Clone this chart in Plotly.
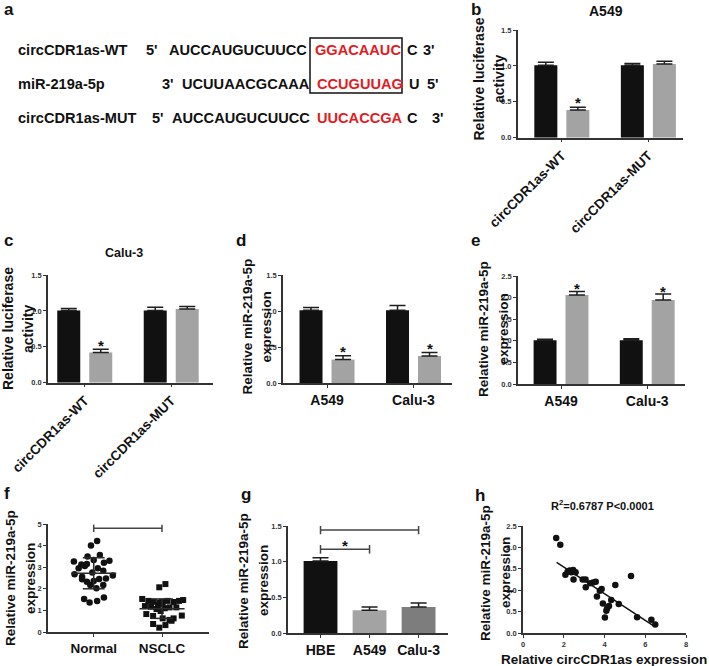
import plotly.graph_objects as go

W, H = 709, 666
FONT = "Liberation Sans, Arial, Helvetica, sans-serif"
INK = "#111111"
AXC = "#333333"
RED = "#e31b23"
LIGHT = "#a3a3a3"
DARK = "#7d7d7d"

# ---------------- data ----------------
# a: sequence alignment
seq_names = ["circCDR1as-WT", "miR-219a-5p", "circCDR1as-MUT"]
seq_end_left = ["5'", "3'", "5'"]
seq_black = ["AUCCAUGUCUUCC", "UCUUAACGCAAA", "AUCCAUGUCUUCC"]
seq_red = ["GGACAAUC", "CCUGUUAG", "UUCACCGA"]
seq_tail = ["C", "U", "C"]
seq_end_right = ["3'", "5'", "3'"]

# b: A549 luciferase
luc_groups = ["circCDR1as-WT", "circCDR1as-MUT"]
b_ctrl = [1.01, 1.01]
b_ctrl_err = [0.04, 0.025]
b_trt = [0.385, 1.025]
b_trt_err = [0.04, 0.04]
b_star = [0.54, None]

# c: Calu-3 luciferase
c_ctrl = [1.005, 1.005]
c_ctrl_err = [0.03, 0.045]
c_trt = [0.42, 1.025]
c_trt_err = [0.045, 0.035]
c_star = [0.57, None]

# d: miR-219a-5p after knockdown
cell_groups = ["A549", "Calu-3"]
d_ctrl = [1.01, 1.01]
d_ctrl_err = [0.04, 0.065]
d_trt = [0.325, 0.375]
d_trt_err = [0.055, 0.05]
d_star = [0.50, 0.53]

# e: miR-219a-5p after overexpression
e_ctrl = [1.01, 1.01]
e_ctrl_err = [0.025, 0.04]
e_trt = [2.06, 1.945]
e_trt_err = [0.08, 0.14]
e_star = [2.31, 2.23]

# f: tissues
f_groups = ["Normal", "NSCLC"]
normal_dx = [-0.04, 0.05, -0.29, -0.18, -0.13, -0.10, -0.09, 0.00, 0.09, 0.15,
             0.23, -0.28, -0.17, 0.14, 0.28, -0.17, -0.10, 0.00, 0.08, 0.18,
             -0.05, 0.04, 0.14, -0.14, -0.06, 0.05, 0.15, -0.02, 0.06, -0.22]
normal_y = [4.00, 4.21, 3.26, 3.13, 3.06, 3.15, 3.49, 3.33, 3.56, 3.21,
            3.30, 2.67, 2.56, 2.84, 2.61, 2.44, 2.33, 2.36, 2.45, 2.48,
            2.18, 2.02, 2.18, 1.53, 1.37, 1.44, 1.60, 2.75, 2.95, 2.95]
nsclc_dx = [-0.04, 0.05, -0.29, -0.20, -0.12, -0.03, 0.00, 0.08, 0.17, 0.25,
            0.31, -0.25, -0.16, -0.08, -0.02, 0.04, 0.11, 0.21, -0.23, -0.13,
            0.01, 0.11, 0.17, 0.29, -0.13, -0.04, 0.05, 0.14, -0.06, 0.01]
nsclc_y = [2.07, 2.22, 1.53, 1.44, 1.40, 1.36, 1.40, 1.44, 1.39, 1.44,
           1.48, 1.20, 1.17, 1.06, 0.97, 1.10, 1.14, 1.14, 0.83, 0.74,
           0.63, 0.56, 0.63, 0.76, 0.37, 0.20, 0.32, 0.52, 1.25, 1.30]
f_means = [2.72, 1.08]
f_sds = [0.72, 0.45]
f_bracket_y = 4.80
f_star_y = 5.26

# g: cell lines
g_groups = ["HBE", "A549", "Calu-3"]
g_vals = [1.01, 0.32, 0.365]
g_err = [0.045, 0.045, 0.055]
g_brackets = [(0, 2, 1.444, 1.546), (0, 1, 1.173, 1.28)]

# h: correlation
h_x = [1.63, 1.83, 2.08, 2.19, 2.29, 2.37, 2.46, 2.58, 2.48, 2.93,
       3.07, 3.08, 3.30, 3.44, 3.57, 3.63, 3.77, 3.86, 3.92, 4.02,
       4.09, 4.13, 4.22, 4.33, 4.53, 4.70, 5.30, 5.60, 6.30, 6.49]
h_y = [2.22, 2.06, 1.36, 1.43, 1.46, 1.42, 1.47, 1.42, 1.25, 1.25,
       1.25, 1.07, 1.16, 1.18, 1.20, 0.85, 0.99, 1.03, 0.69, 0.36,
       0.52, 0.58, 0.63, 0.77, 1.12, 0.68, 1.33, 0.37, 0.31, 0.20]
h_fit_x = [1.65, 6.45]
h_fit_y = [1.65, 0.155]
h_title = "R<sup>2</sup>=0.6787 P&lt;0.0001"


# ---------------- helpers ----------------
def PX(x):
    return x / W


def PY(y):
    return 1 - y / H


fig = go.Figure()
ann = []
shapes = []

BAR_W = 0.266
OFF = 0.185


def text_at(t, x, y, size, color=INK, angle=0, xanchor="center"):
    ann.append(dict(x=PX(x), y=PY(y), xref="paper", yref="paper", text=t,
                    textangle=angle, showarrow=False, xanchor=xanchor, yanchor="middle",
                    font=dict(size=size, color=color, family=FONT, weight="bold")))


def bar_pair(n, ctrl, ctrl_err, trt, trt_err):
    xs = list(range(len(ctrl)))
    for vals, errs, col, c in ((ctrl, ctrl_err, INK, -OFF), (trt, trt_err, LIGHT, OFF)):
        fig.add_trace(go.Bar(
            x=xs, y=vals, xaxis="x%d" % n, yaxis="y%d" % n,
            width=BAR_W, offset=c - BAR_W / 2,
            marker=dict(color=col, line=dict(width=0)),
            error_y=dict(type="data", array=errs, arrayminus=[0] * len(errs),
                         symmetric=False, color="#1e1e1e", thickness=1.5, width=8),
            showlegend=False, hoverinfo="skip"))


def star(n, x, y):
    ann.append(dict(x=x, y=y, xref="x%d" % n, yref="y%d" % n, text="*",
                    showarrow=False, yshift=-4, xanchor="center", yanchor="middle",
                    font=dict(size=15, color=INK, family=FONT, weight="bold")))


def stars(n, xs, ys):
    for x, y in zip(xs, ys):
        if y is not None:
            star(n, x, y)


def yaxis(n, dom, rng, dtick, fmt):
    return dict(domain=[PY(dom[0]), PY(dom[1])], range=rng, anchor="x%d" % n,
                showline=True, linecolor=AXC, linewidth=1.5, ticks="outside",
                ticklen=3, tickwidth=1, tickcolor=AXC, tick0=0, dtick=dtick,
                tickformat=fmt, tickfont=dict(size=7.5, color=AXC, family=FONT, weight="bold"),
                showgrid=False, zeroline=False, fixedrange=True, automargin=False)


def xaxis(n, dom, rng, tickvals, ticktext, angle=0, size=14):
    return dict(domain=[PX(dom[0]), PX(dom[1])], range=rng, anchor="y%d" % n,
                showline=True, linecolor=AXC, linewidth=1.5, ticks="outside",
                ticklen=3, tickwidth=1, tickcolor=AXC, tickvals=tickvals,
                ticktext=ticktext, tickangle=angle,
                tickfont=dict(size=size, color=INK, family=FONT, weight="bold"),
                showgrid=False, zeroline=False, fixedrange=True, automargin=False)


def ytitle(line1, line2, x1, x2, y, size=13.5):
    text_at(line1, x1, y, size, angle=-90)
    text_at(line2, x2, y, size, angle=-90)


def label(t, x, y):
    text_at(t, x, y, 17)


lay = {}

# ---------------- a ----------------
label("a", 9, 10)
row_y = [50, 84, 118]
col_x = [(16, 144, 167, 313, 404.5, 421), (16, 160, 180, 315, 407, 425), (16, 150, 170, 315, 405, 430)]
for i in range(3):
    parts = [seq_names[i], seq_end_left[i], seq_black[i], seq_red[i], seq_tail[i], seq_end_right[i]]
    for j, (t, x) in enumerate(zip(parts, col_x[i])):
        text_at(t, x, row_y[i], 14.6, color=RED if j == 3 else INK, xanchor="left")
shapes.append(dict(type="rect", xref="paper", yref="paper", x0=PX(310), x1=PX(402),
                   y0=PY(93), y1=PY(38), line=dict(color=INK, width=1.5)))

# ---------------- b ----------------
bar_pair(1, b_ctrl, b_ctrl_err, b_trt, b_trt_err)
stars(1, [i + OFF for i in range(2)], b_star)
lay["xaxis"] = xaxis(1, (517.7, 683), [-0.51, 1.40], [0, 1], luc_groups, angle=-45, size=13.5)
lay["yaxis"] = yaxis(1, (137.7, 30), [0, 1.5], 0.5, ".1f")
ytitle("Relative luciferase", "activity", 478.5, 499, 79, 14)
label("b", 476, 10)
text_at("A549", 605.5, 11, 14)

# ---------------- c ----------------
bar_pair(2, c_ctrl, c_ctrl_err, c_trt, c_trt_err)
stars(2, [i + OFF for i in range(2)], c_star)
lay["xaxis2"] = xaxis(2, (48, 213), [-0.425, 1.483], [0, 1], luc_groups, angle=-45, size=13.5)
lay["yaxis2"] = yaxis(2, (382.7, 275), [0, 1.5], 0.5, ".1f")
ytitle("Relative luciferase", "activity", 8, 28, 329, 14)
label("c", 8, 240)
text_at("Calu-3", 123.5, 253, 12.5)

# ---------------- d ----------------
bar_pair(3, d_ctrl, d_ctrl_err, d_trt, d_trt_err)
stars(3, [i + OFF for i in range(2)], d_star)
lay["xaxis3"] = xaxis(3, (283, 452), [-0.509, 1.445], [0, 1], cell_groups)
lay["yaxis3"] = yaxis(3, (383, 275), [0, 1.5], 0.5, ".1f")
ytitle("Relative miR-219a-5p", "expression", 246.5, 265.5, 327)
label("d", 241, 240)

# ---------------- e ----------------
bar_pair(4, e_ctrl, e_ctrl_err, e_trt, e_trt_err)
stars(4, [i + OFF for i in range(2)], e_star)
lay["xaxis4"] = xaxis(4, (518, 685), [-0.499, 1.438], [0, 1], cell_groups)
lay["yaxis4"] = yaxis(4, (384, 276), [0, 2.5], 0.5, ".1f")
ytitle("Relative miR-219a-5p", "expression", 483, 502.5, 329)
label("e", 476, 240)

# ---------------- f ----------------
fig.add_trace(go.Scatter(x=[0 + d for d in normal_dx], y=normal_y, mode="markers",
                         xaxis="x5", yaxis="y5", marker=dict(symbol="circle", size=6.5, color=INK),
                         showlegend=False, hoverinfo="skip", cliponaxis=False))
fig.add_trace(go.Scatter(x=[1 + d for d in nsclc_dx], y=nsclc_y, mode="markers",
                         xaxis="x5", yaxis="y5", marker=dict(symbol="square", size=6, color=INK),
                         showlegend=False, hoverinfo="skip", cliponaxis=False))
for i, (m, s) in enumerate(zip(f_means, f_sds)):
    fig.add_trace(go.Scatter(
        x=[i - 0.33, i + 0.33, None, i - 0.16, i + 0.16, None, i - 0.16, i + 0.16, None, i, i],
        y=[m, m, None, m + s, m + s, None, m - s, m - s, None, m - s, m + s],
        mode="lines", line=dict(color="#2a2a2a", width=1.5), xaxis="x5", yaxis="y5",
        showlegend=False, hoverinfo="skip"))
fig.add_trace(go.Scatter(
    x=[0, 1, None, 0, 0, None, 1, 1],
    y=[f_bracket_y, f_bracket_y, None, f_bracket_y - 0.17, f_bracket_y + 0.17, None,
       f_bracket_y - 0.17, f_bracket_y + 0.17],
    mode="lines", line=dict(color="#444444", width=1.5), xaxis="x5", yaxis="y5",
    showlegend=False, hoverinfo="skip"))
star(5, 0.5, f_star_y)
lay["xaxis5"] = xaxis(5, (48, 209), [-0.669, 1.688], [0, 1], f_groups, size=13.5)
lay["yaxis5"] = yaxis(5, (632, 524), [0, 5], 1, "d")
ytitle("Relative miR-219a-5p", "expression", 10, 30, 578)
label("f", 7, 493)

# ---------------- g ----------------
fig.add_trace(go.Bar(x=list(range(3)), y=g_vals, xaxis="x6", yaxis="y6", width=0.69,
                     marker=dict(color=[INK, LIGHT, DARK], line=dict(width=0)),
                     error_y=dict(type="data", array=g_err, arrayminus=[0] * 3, symmetric=False,
                                  color="#1e1e1e", thickness=1.5, width=8),
                     showlegend=False, hoverinfo="skip"))
bx, by = [], []
for x0, x1, yb, ys in g_brackets:
    bx += [x0, x1, None, x0, x0, None, x1, x1, None]
    by += [yb, yb, None, yb - 0.06, yb + 0.06, None, yb - 0.06, yb + 0.06, None]
    star(6, (x0 + x1) / 2, ys)
fig.add_trace(go.Scatter(x=bx, y=by, mode="lines", line=dict(color="#444444", width=1.5),
                         xaxis="x6", yaxis="y6", showlegend=False, hoverinfo="skip"))
lay["xaxis6"] = xaxis(6, (288, 448), [-0.663, 2.60], [0, 1, 2], g_groups)
lay["yaxis6"] = yaxis(6, (633, 526), [0, 1.5], 0.5, ".1f")
ytitle("Relative miR-219a-5p", "expression", 243, 263, 581)
label("g", 246, 494)

# ---------------- h ----------------
fig.add_trace(go.Scatter(x=h_x, y=h_y, mode="markers", xaxis="x7", yaxis="y7",
                         marker=dict(symbol="circle", size=6.5, color=INK),
                         showlegend=False, hoverinfo="skip", cliponaxis=False))
fig.add_trace(go.Scatter(x=h_fit_x, y=h_fit_y, mode="lines", xaxis="x7", yaxis="y7",
                         line=dict(color=INK, width=1.5), showlegend=False, hoverinfo="skip"))
hx = xaxis(7, (523, 686), [0, 8], [0, 2, 4, 6, 8], ["0", "2", "4", "6", "8"])
hx["tickfont"] = dict(size=7.5, color=AXC, family=FONT, weight="bold")
lay["xaxis7"] = hx
lay["yaxis7"] = yaxis(7, (633, 526), [0, 2.5], 0.5, ".1f")
ytitle("Relative miR-219a-5p", "expression", 485, 505, 573)
label("h", 480, 495)
text_at(h_title, 602, 505, 11)
text_at("Relative circCDR1as expression", 604, 659, 13.5)

fig.update_layout(width=W, height=H, margin=dict(l=0, r=0, t=0, b=0, autoexpand=False),
                  paper_bgcolor="white", plot_bgcolor="white", barmode="overlay",
                  font=dict(family=FONT, color=INK), annotations=ann, shapes=shapes,
                  showlegend=False, **lay)
fig.write_html("out.html", config={"displayModeBar": False},
               post_script="document.body.style.margin='0px';document.body.style.padding='0px';")
